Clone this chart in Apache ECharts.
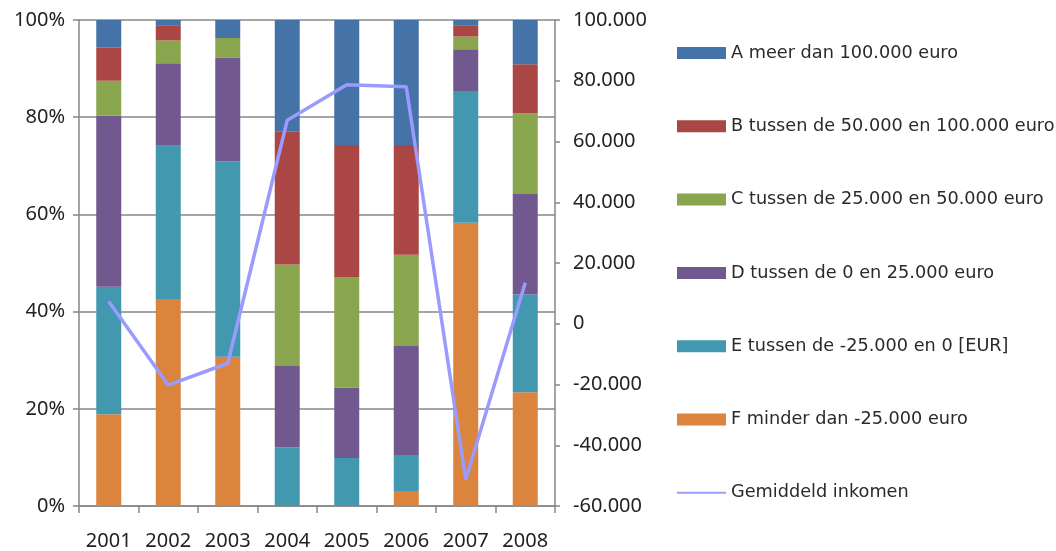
<!DOCTYPE html>
<html>
<head>
<meta charset="utf-8">
<script src="https://cdn.jsdelivr.net/npm/echarts@6/dist/echarts.min.js"></script>
<style>html,body{margin:0;padding:0;background:#fff}#c{width:1056px;height:551px}</style>
</head>
<body>
<div id="c"></div>
<script>
var years = ['2001','2002','2003','2004','2005','2006','2007','2008'];
var seriesNames = ['A meer dan 100.000 euro','B tussen de 50.000 en 100.000 euro','C tussen de 25.000 en 50.000 euro','D tussen de 0 en 25.000 euro','E tussen de -25.000 en 0 [EUR]','F minder dan -25.000 euro'];
var lineName = 'Gemiddeld inkomen';
var valA = [5.7, 1.2, 3.5, 22.9, 25.7, 25.7, 1.2, 9.1];
var valB = [6.8, 3.0, 0.2, 27.4, 27.3, 22.6, 2.2, 10.1];
var valC = [7.2, 4.7, 4.1, 20.9, 22.6, 18.8, 2.6, 16.6];
var valD = [35.2, 17.0, 21.3, 16.7, 14.5, 22.4, 8.6, 20.7];
var valE = [26.2, 31.5, 40.2, 12.1, 9.9, 7.4, 27.1, 20.1];
var valF = [18.9, 42.6, 30.7, 0, 0, 3.1, 58.3, 23.4];
var avgIncome = [7300, -20200, -13000, 67000, 78700, 78000, -51300, 13500];
var leftTicks = {min: 0, max: 100, interval: 20};
var rightTicks = {min: -60000, max: 100000, interval: 20000};

var colors = ['#4572A7','#AA4643','#89A54E','#71588F','#4198AF','#DB843D'];
var lineColor = '#9b9bff';
var values = [valA, valB, valC, valD, valE, valF];

function fmtNum(v){
  var s = String(Math.abs(v)).replace(/\B(?=(\d{3})+(?!\d))/g, '.');
  return (v < 0 ? '-' : '') + s;
}

var series = [];
for (var i = values.length - 1; i >= 0; i--) {
  series.push({
    name: seriesNames[i], type: 'bar', stack: 'total', barWidth: '42%',
    yAxisIndex: 0, data: values[i],
    itemStyle: {color: colors[i]}, emphasis: {disabled: true}
  });
}
series.push({
  name: lineName, type: 'line', yAxisIndex: 1, data: avgIncome,
  symbol: 'none', smooth: false,
  lineStyle: {color: lineColor, width: 3.5}, itemStyle: {color: lineColor}, z: 10
});

var legendData = seriesNames.map(function(n){ return {name: n, icon: 'rect'}; });
legendData.push({name: lineName, itemStyle: {opacity: 0}});

var axisFont = {fontFamily: 'Noto Sans', fontSize: 20, color: '#222'};
var gray = '#878787';

var chart = echarts.init(document.getElementById('c'), null, {renderer: 'canvas'});
chart.setOption({
  animation: false,
  backgroundColor: '#fff',
  grid: {left: 79, right: 501, top: 20, bottom: 44, containLabel: false},
  legend: {
    orient: 'vertical', left: 671, top: 38, data: legendData,
    itemWidth: 49, itemHeight: 12, itemGap: 53.3,
    textStyle: {fontFamily: 'DejaVu Sans', fontSize: 17.7, lineHeight: 16, color: '#2a2a2a', padding: [4,0,0,0]},
    selectedMode: false
  },
  xAxis: {
    type: 'category', data: years, boundaryGap: true,
    axisLine: {lineStyle: {color: gray, width: 1.5}},
    axisTick: {show: true, alignWithLabel: false, length: 7, lineStyle: {color: gray, width: 1.5}},
    axisLabel: Object.assign({margin: 25}, axisFont)
  },
  yAxis: [
    {
      type: 'value', min: leftTicks.min, max: leftTicks.max, interval: leftTicks.interval,
      axisLine: {show: true, lineStyle: {color: gray, width: 1.5}},
      axisTick: {show: true, length: 6, lineStyle: {color: gray, width: 1.5}},
      splitLine: {show: true, lineStyle: {color: gray, width: 1.5}},
      axisLabel: Object.assign({margin: 14, formatter: '{value}%', padding: [6,0,0,0]}, axisFont)
    },
    {
      type: 'value', position: 'right', min: rightTicks.min, max: rightTicks.max, interval: rightTicks.interval,
      axisLine: {show: true, lineStyle: {color: gray, width: 1.5}},
      axisTick: {show: true, length: 5, lineStyle: {color: gray, width: 1.5}},
      splitLine: {show: false},
      axisLabel: Object.assign({margin: 18, formatter: fmtNum, padding: [3,0,0,0]}, axisFont)
    }
  ],
  series: series
});
</script>
</body>
</html>
